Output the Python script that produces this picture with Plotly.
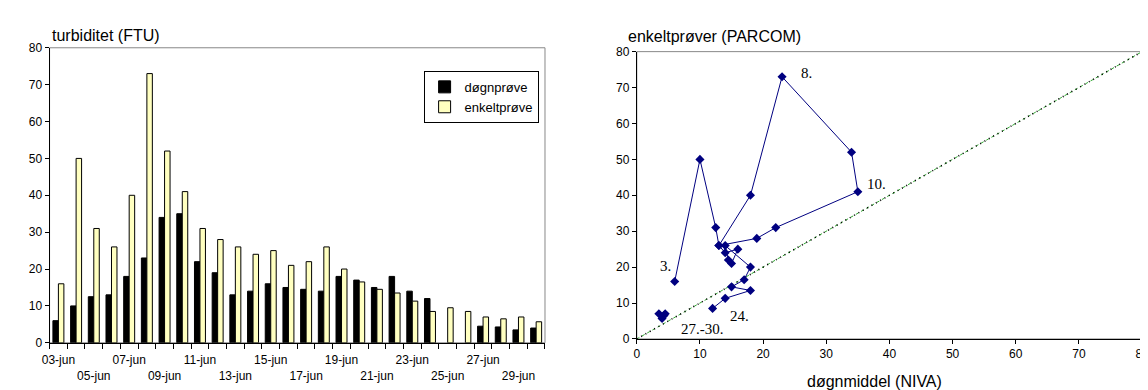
import plotly.graph_objects as go

days = ['03-jun', '04-jun', '05-jun', '06-jun', '07-jun', '08-jun', '09-jun', '10-jun',
        '11-jun', '12-jun', '13-jun', '14-jun', '15-jun', '16-jun', '17-jun', '18-jun',
        '19-jun', '20-jun', '21-jun', '22-jun', '23-jun', '24-jun', '25-jun', '26-jun',
        '27-jun', '28-jun', '29-jun', '30-jun']
dogn = [6, 10, 12.5, 13, 18, 23, 34, 35, 22, 19, 13, 14, 16, 15, 14.5, 14,
        18, 17, 15, 18, 14, 12, None, None, 4.5, 4.3, 3.5, 4]
enkelt = [16, 50, 31, 26, 40, 73, 52, 41, 31, 28, 26, 24, 25, 21, 22, 26,
          20, 16.5, 14.5, 13.5, 11.3, 8.5, 9.5, 8.5, 7, 6.5, 7, 5.7]

label_text = ['3.', '8.', '10.', '24.', '27.-30.']
label_x = [4.6, 26.9, 37.9, 16.2, 10.4]
label_y = [20.2, 74, 43.2, 6.4, 2.9]

diag = [0, 80]

W, H = 1148, 390
font = 'Liberation Sans, Arial, sans-serif'

# day index on a linear axis so that tick marks can sit between the days
idx = list(range(len(days)))

# tick labels on two rows, like Excel's staggered category labels
ticktext = []
for i, d in enumerate(days):
    if i % 4 == 0:
        ticktext.append(d)
    elif i % 4 == 2:
        ticktext.append('<br>' + d)
    else:
        ticktext.append('')

fig = go.Figure()

fig.add_trace(go.Bar(x=idx, y=dogn, name='døgnprøve', customdata=days,
                     marker=dict(color='black', line=dict(color='black', width=1)),
                     xaxis='x', yaxis='y'))
fig.add_trace(go.Bar(x=idx, y=enkelt, name='enkeltprøve', customdata=days,
                     marker=dict(color='#FFFFC0', line=dict(color='black', width=1)),
                     xaxis='x', yaxis='y'))

# 1:1 line
fig.add_trace(go.Scatter(x=diag, y=diag, mode='lines', showlegend=False,
                         line=dict(color='#33AA33', width=1, dash='dot'),
                         xaxis='x2', yaxis='y2'))
fig.add_trace(go.Scatter(x=diag, y=diag, mode='lines', showlegend=False,
                         line=dict(color='black', width=1.6, dash='1px,4px'),
                         xaxis='x2', yaxis='y2'))

fig.add_trace(go.Scatter(x=dogn, y=enkelt, mode='lines+markers', showlegend=False,
                         connectgaps=False,
                         line=dict(color='#000080', width=1),
                         marker=dict(symbol='diamond', size=7, color='#000080'),
                         xaxis='x2', yaxis='y2'))

def px(x):
    return x / W

def py(y):
    return 1 - y / H

axis_common = dict(showline=True, linecolor='black', linewidth=1, ticks='outside',
                   tickcolor='black', ticklen=4, showgrid=False, zeroline=False,
                   tickfont=dict(family=font, size=12, color='black'))

annotations = [
    dict(text='turbiditet (FTU)', x=px(34), y=py(21), xref='paper', yref='paper',
         xanchor='left', yanchor='middle', showarrow=False,
         font=dict(family=font, size=16, color='black')),
    dict(text='enkeltprøver (PARCOM)', x=px(618), y=py(22), xref='paper', yref='paper',
         xanchor='left', yanchor='middle', showarrow=False,
         font=dict(family=font, size=16, color='black')),
    dict(text='døgnmiddel (NIVA)', x=px(870), y=py(380), xref='paper', yref='paper',
         xanchor='center', yanchor='middle', showarrow=False,
         font=dict(family=font, size=16, color='black')),
]
for t, x, y in zip(label_text, label_x, label_y):
    annotations.append(dict(text=t, x=x, y=y, xref='x2', yref='y2', showarrow=False,
                            font=dict(family='Liberation Serif, Times New Roman, serif',
                                      size=15, color='black')))

shapes = [
    dict(type='rect', xref='x domain', yref='y domain', x0=0, x1=1, y0=0, y1=1,
         line=dict(color='#888888', width=1), layer='below'),
    dict(type='rect', xref='x2 domain', yref='y2 domain', x0=0, x1=1, y0=0, y1=1,
         line=dict(color='#888888', width=1), layer='below'),
]

n = len(days)
fig.update_layout(
    width=W, height=H,
    margin=dict(l=0, r=0, t=0, b=0),
    paper_bgcolor='white', plot_bgcolor='white',
    font=dict(family=font, color='black'),
    barmode='group', bargap=0.38, bargroupgap=0,
    xaxis=dict(domain=[px(34), px(536)], anchor='y', range=[-0.5, n - 0.5],
               tickmode='array', tickvals=idx, ticktext=ticktext, tickangle=0,
               ticklabelstandoff=6,
               minor=dict(ticks='outside', ticklen=5, tickcolor='black',
                          tick0=-0.5, dtick=1, showgrid=False),
               **{**axis_common, 'ticks': ''}),
    yaxis=dict(domain=[py(340), py(34)], anchor='x', range=[0, 80], dtick=10,
               **axis_common),
    xaxis2=dict(domain=[px(629), px(1141)], anchor='y2', range=[0, 80], dtick=10,
                **axis_common),
    yaxis2=dict(domain=[py(336), py(38)], anchor='x2', range=[0, 80], dtick=10,
                **axis_common),
    legend=dict(x=px(413), y=py(58), xanchor='left', yanchor='top',
                bordercolor='black', borderwidth=1, bgcolor='white',
                font=dict(family=font, size=13, color='black'),
                itemwidth=30, tracegroupgap=0),
    annotations=annotations,
    shapes=shapes,
)

fig.write_html('out.html')
